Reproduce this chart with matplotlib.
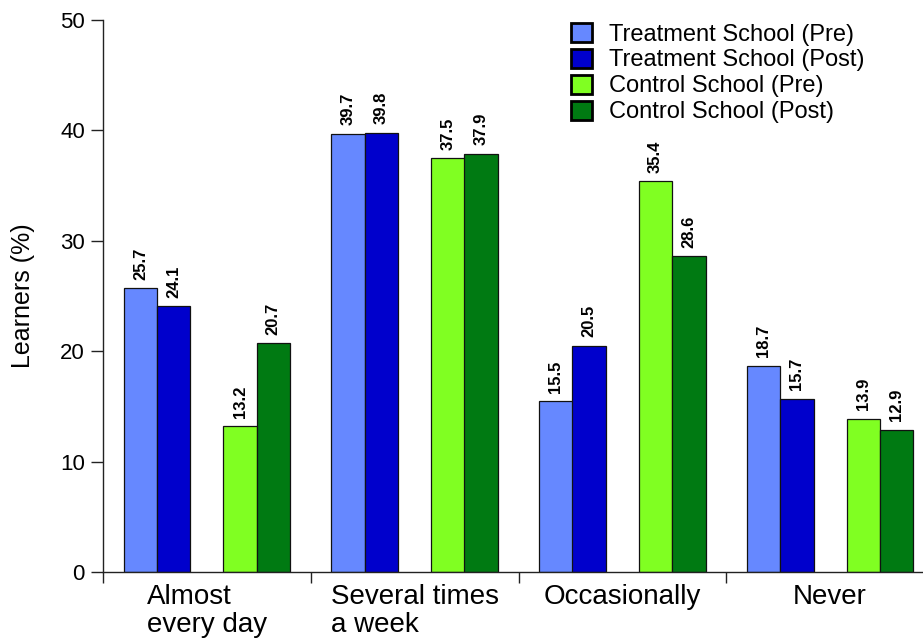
import matplotlib
matplotlib.use("Agg")
import matplotlib.pyplot as plt
from matplotlib.patches import Patch
import numpy as np

plt.rcParams["font.family"] = ["Liberation Sans", "DejaVu Sans"]

categories = ["Almost\nevery day", "Several times\na week", "Occasionally", "Never"]
series_names = ["Treatment School (Pre)", "Treatment School (Post)",
                "Control School (Pre)", "Control School (Post)"]
treatment_pre = [25.7, 39.7, 15.5, 18.7]
treatment_post = [24.1, 39.8, 20.5, 15.7]
control_pre = [13.2, 37.5, 35.4, 13.9]
control_post = [20.7, 37.9, 28.6, 12.9]
y_ticks = [0, 10, 20, 30, 40, 50]

series = [treatment_pre, treatment_post, control_pre, control_post]
colors = ["#6688FF", "#0000CC", "#80FF22", "#007A12"]
offsets = [-0.32, -0.16, 0.16, 0.32]
bar_w = 0.161

fig = plt.figure(figsize=(9.23, 6.4), dpi=100)
ax = fig.add_axes([103 / 923, 68 / 640, 831 / 923, 552 / 640])

x = np.arange(len(categories))
for vals, col, off in zip(series, colors, offsets):
    bars = ax.bar(x + off, vals, width=bar_w, color=col,
                  edgecolor="#111111", linewidth=0.9, zorder=2)
    for rect, v in zip(bars, vals):
        ax.annotate(f"{v:.1f}", xy=(rect.get_x() + rect.get_width() / 2, v),
                    xytext=(0, 6), textcoords="offset points",
                    rotation=90, ha="center", va="bottom",
                    fontsize=12, fontweight="bold")

ax.set_xlim(-0.5, 3.5)
ax.set_ylim(0, 50)
ax.set_yticks(y_ticks)
ax.tick_params(axis="y", length=9, width=1, labelsize=16, pad=4, color="#222222")

ax.set_xticks(x)
ax.set_xticklabels(categories, fontsize=20, multialignment="left", linespacing=1.1)
ax.set_xticks(np.arange(-0.5, 4.0, 1.0), minor=True)
ax.tick_params(axis="x", which="major", length=0, pad=9)
ax.tick_params(axis="x", which="minor", length=8, width=1, color="#222222")

ax.set_ylabel("Learners (%)", fontsize=18, labelpad=18)

for side in ["top", "right"]:
    ax.spines[side].set_visible(False)
for side in ["left", "bottom"]:
    ax.spines[side].set_linewidth(1)
    ax.spines[side].set_color("#222222")

handles = [Patch(facecolor=c, edgecolor="black", linewidth=2) for c in colors]
fig.legend(handles, series_names, loc="upper left",
           bbox_to_anchor=(571 / 923, 1 - 23 / 640), frameon=False,
           fontsize=17, handlelength=0.9, handleheight=0.85,
           handletextpad=0.7, labelspacing=0.14, borderpad=0, borderaxespad=0)

fig.savefig("out.png", dpi=100)
